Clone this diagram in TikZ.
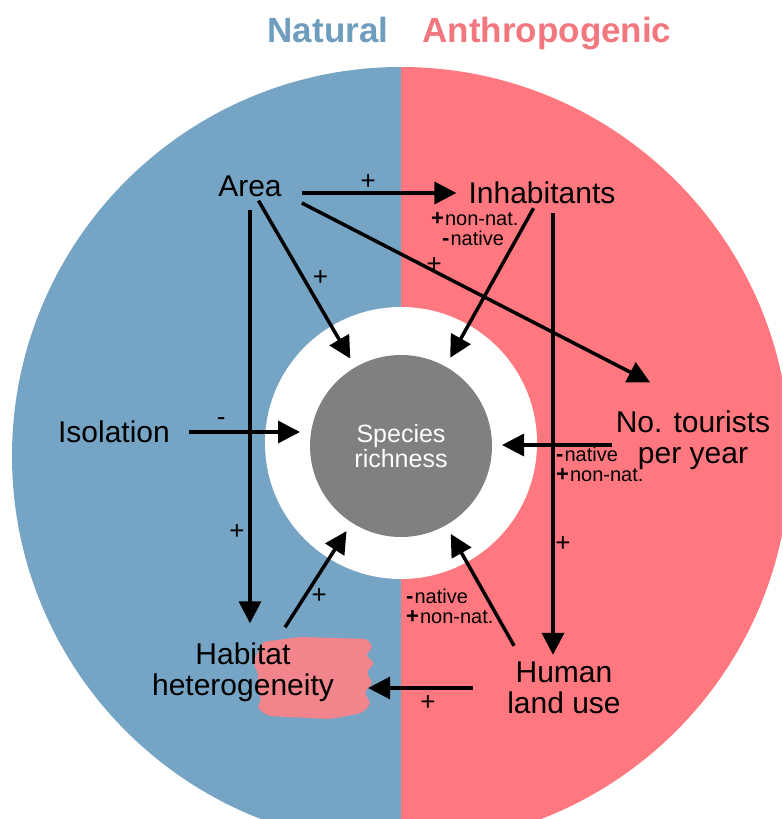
\documentclass[tikz,border=0pt]{standalone}
\usepackage{fontspec}
\setmainfont{Liberation Sans}
\usetikzlibrary{arrows.meta,calc}

\definecolor{natblue}{HTML}{76A4C4}
\definecolor{anthpink}{HTML}{FF7880}
\definecolor{titleblue}{HTML}{6E9DBE}
\definecolor{titlepink}{HTML}{F2777F}
\definecolor{smudge}{HTML}{F2848C}
\definecolor{spgray}{HTML}{808080}

\newcommand{\sgn}[1]{{\bfseries\fontsize{22}{20}\selectfont #1}\kern1pt}

\begin{document}
\begin{tikzpicture}[x=1pt,y=-1pt,
  >={Triangle[length=22pt,width=22pt]},
  lbl/.style={align=center, font=\fontsize{30}{31}\selectfont, inner sep=4pt},
  title/.style={anchor=base, font=\bfseries\fontsize{35}{35}\selectfont},
  sign/.style={font=\fontsize{26}{26}\selectfont, inner sep=0pt},
  note/.style={anchor=north west, align=left, font=\fontsize{20}{20}\selectfont, inner sep=0pt},
  arr/.style={->, line width=3.5pt}]

\useasboundingbox (0,0) rectangle (782,819);

% background: two halves and the white ring
\begin{scope}
\clip (401,456) circle[radius=389pt];
\fill[natblue] (0,0) rectangle (401,819);
\fill[anthpink] (401,0) rectangle (782,819);
\end{scope}
\fill[white] (401,443) circle[radius=136pt];
\fill[smudge, rounded corners=4pt] (262,642) -- (300,637) -- (368,639) -- (373,648) -- (365,655) -- (375,663) -- (366,672) -- (373,683) -- (364,692) -- (371,704) -- (362,713) -- (330,719) -- (268,716) -- (257,708) -- (262,698) -- (254,688) -- (259,676) -- (253,662) -- (258,652) -- cycle;

% titles
\node[title, text=titleblue] (nat) at (328,42) {Natural};
\node[title, text=titlepink] (anth) at (547,42) {Anthropogenic};

% nodes
\node[circle, fill=spgray, minimum size=182pt, inner sep=0pt, outer sep=10pt, text=white, align=center, font=\fontsize{25}{25}\selectfont] (species) at (401,446) {Species\\richness};
\path
(250,186) node[lbl] (area) {Area}
(542,193) node[lbl] (inhab) {Inhabitants}
(114,432) node[lbl] (isol) {Isolation}
(693,440) node[lbl] (tour) {No. tourists\\per year}
(243,672) node[lbl] (habit) {Habitat\\heterogeneity}
(564,688) node[lbl] (human) {Human\\land use};

% Area
\draw[arr] ([shift={(16,7)}]area.east) -- ([shift={(-8,0)}]inhab.west) node[sign, pos=.43, yshift=11pt]{+};
\draw[arr] (area) -- (species) node[sign, pos=.49, xshift=17pt]{+};
\draw[arr] ([shift={(16,17)}]area.east) -- ([shift={(-43,-24)}]tour.north) node[sign, pos=.38, yshift=6pt]{+};
\draw[arr] ([shift={(0,9)}]area.south) -- ($(area.south |- habit.north)+(0,-15)$) node[sign, pos=.78, xshift=-13pt]{+};

% Inhabitants
\draw[arr] (inhab) -- (species);
\draw[arr] ([shift={(11,5)}]inhab.south) -- ($(inhab.south |- human.north)+(11,-3)$) node[sign, pos=.75, xshift=10pt]{+};

% Isolation, tourists
\draw[arr] ([shift={(15,0)}]isol.east) -- (isol.east -| species.west) node[sign, pos=.29, yshift=10pt]{-};
\draw[arr] ([shift={(0,5)}]tour.west) -- ($(tour.west -| species.east)+(0,5)$);

% Habitat, human land use
\draw[arr] ([shift={(42,-11)}]habit.north) -- (species) node[sign, pos=.33, xshift=14pt]{+};
\draw[arr] ([shift={(11,-12)}]human.north west) -- (species);
\draw[arr] ([shift={(-30,0)}]human.west) -- ($(human.west -| habit.east)+(30,0)$) node[sign, pos=.43, yshift=-15pt]{+};

% native / non-native
\path
(431,212) node[note] (inhabnote) {\sgn{+}non-nat.\\\hspace{11pt}\sgn{-}native}
(556,447) node[note] (tournote) {\sgn{-}native\\\sgn{+}non-nat.}
(406,589) node[note] (humannote) {\sgn{-}native\\\sgn{+}non-nat.};

\end{tikzpicture}
\end{document}
